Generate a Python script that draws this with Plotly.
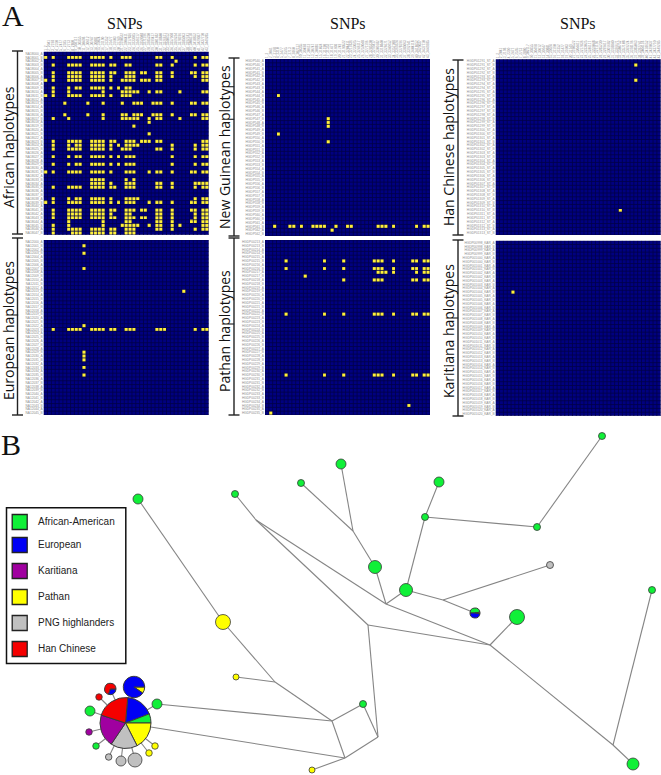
"""Haplotype matrices (A) and haplotype network (B)."""

import plotly.graph_objects as go

WIDTH = 661
HEIGHT = 775

NAVY = "#000080"
CELL_YELLOW = "#fff03a"
GRID_DARK = "#000048"
EDGE_GRAY = "#858585"
NODE_LINE = "#3a3a3a"

GREEN = "#10f038"
BLUE = "#0000f5"
PURPLE = "#a000a0"
YELLOW = "#ffff00"
GRAY = "#c0c0c0"
RED = "#f50000"

N_SNPS = 43

SNP_LABELS = [
    "1_2", "2_2041", "3_2198", "4_2310", "5_2477", "6_2595", "7_2713", "8_2860",
    "9_302117", "10_30355", "11_30498", "12_30612", "13_30747", "14_30881", "15_31024", "16_31190",
    "17_31352", "18_31477", "19_31603", "20_31749", "21_3190522", "22_3204411", "23_3217836", "24_3233025",
    "25_3246117", "26_3259048", "27_3271196", "28_3285230", "29_3299417", "30_3301682", "31_3318840", "32_3326671",
    "33_3340752", "34_3357108", "35_3369224", "36_3378196", "37_3385063", "38_3392741", "39_3404118", "40_3418652",
    "41_3429037", "42_3437710", "43_3449285",
]

# yellow cells of the African panel, row by row, as SNP column runs
AFRICAN_ROWS = [
    "", "0 2 6-9 12-15 17 20-22 29-30 33 39 41-42", "34", "2 6-9 12-15 17-18 21-22 29-30 33 39 41-42", "",
    "2 6-9 12-15 17-18 21-23 25-26 29-30 33 38-39 41-42", "2 6-9 12-15 17 21-23 29-30 33 39 41-42",
    "0 2 6-9 12-15 17 20-23 25-27 29-30 41-42", "",
    "2 6 8-9 12-15 17 19 21-22", "2 6 15 20-24 27 29-30 35 41-42", "0 2 6-9 12-15 17 20-22", "",
    "5 11 15 20 23-25 28-30 33 38-39 41-42", "", "",
    "5 11 15 20-21 23-25 28-30 33 38-39 41-42", "2 6 15 20-24 27 29-30 35 41-42", "27", "23", "",
    "27", "", "2 6-9 12-15 17-18 21-23 25-27 29-30 41-42",
    "2 6 8-9 12-15 17 19 21-24 33 39 41-42", "2 6-9 12-15 17 20-22 29-30 33 39 41-42", "",
    "2 6 8-9 12-15 17 19 21-23 33 39 41-42", "", "2 6 8-9 12-15 17 19 21-23 33 39 41-42", "",
    "0 2 6-9 12-15 17 21-23 27 29-30 33 38-39 41-42", "", "12-15 21 23", "12-15 17 21-23 29-30 33 39-42",
    "2 6-9 12-15 17-18 21-23 29-30 33 39 41-42", "", "",
    "2 6 8-9 12-15 17 21-24 39 41-42", "0 2 6-9 12-15 17 19 21-23 27 29-30 33 38-39 41-42", "",
    "2 6-9 12-15 17-18 21-23 25-26 29-30 33 38-39 41-42", "2 6-9 12-15 17 21-22 29-30 33 39 41-42",
    "2 6-9 12-15 17-18 21-23 25-26 29-30 33 39 41-42", "6 15 21-22 29-30 33 38-39 41-42",
    "2 6 15 20-24 27 29-30 33 35 41-42", "2 6-9 12-15 17-18 21-23 29-30 33 39 41-42",
    "2 7-9 12-15 17-18 21-23",
]
EUROPEAN_ROWS = {
    1: "10", 3: "10", 7: "10", 13: "36", 22: "10",
    23: "2 6-9 12-15 17-18 21-23 29-31 39 41-42",
    29: "10", 30: "10", 31: "10", 33: "10", 35: "10",
}
NEW_GUINEAN_ROWS = {
    9: "3", 15: "16", 16: "16", 17: "16", 19: "3", 21: "16",
    43: "2 6-7 9 12-15 18 21-22 29-31 33 39 41-42", 44: "17",
}
PATHAN_ROWS = {
    5: "5 15 20 28-30 33 38-39 41-42",
    7: "5 15 20 28-30 33 38-39 41-42",
    8: "29-31 33 39 41-42",
    9: "10",
    10: "20 28-30 38-39 41-42",
    19: "5 15 20 28-30 33 38-39 41-42",
    35: "5 15 20 28-30 33 38-39 41-42",
    43: "37",
    45: "1",
}
HAN_ROWS = {1: "36", 5: "36", 39: "32"}
KARITIANA_ROWS = {13: "4"}

AFRICAN_IDS = [f"NA18{i:03d}_{'AB'[i % 2]}" for i in range(48)]
EUROPEAN_IDS = [f"NA12{i:03d}_{'AB'[i % 2]}" for i in range(46)]
NEW_GUINEAN_IDS = [f"HGDP{540 + i // 2}_{'AB'[i % 2]}" for i in range(46)]
PATHAN_IDS = [f"HGDP00{213 + i // 2}_{'AB'[i % 2]}" for i in range(46)]
HAN_IDS = [f"HGDP01{291 + i // 2}_ST_{'AB'[i % 2]}" for i in range(46)]
KARITIANA_IDS = [f"HGDP00{998 + i // 2}_KAR_{'AB'[i % 2]}" for i in range(46)]

# network points: visible haplotypes, then pie centres, then junctions
NODE_X = [138, 223, 236, 235, 301, 341, 439, 425, 537, 602, 375, 406, 550, 517, 652, 633, 363, 312,
          157, 90, 99, 89, 96, 108.7, 121, 135, 149, 155,
          125.5, 134, 110.3, 475,
          256, 386, 368, 490, 613, 378, 332, 345, 275, 353, 443]
NODE_Y = [499, 622, 677, 494, 483, 464, 482, 517, 527, 436, 567, 590, 565, 617, 590, 764, 704, 770,
          704, 711, 697, 732, 746, 757, 761, 760, 753, 746,
          723, 687, 689, 613,
          520, 604, 625, 645, 745, 737, 721, 758, 682, 531, 600]
NODE_SIZE = [10, 15, 6, 7, 7, 10, 10, 7, 7, 7, 13, 13, 7, 15, 7, 12, 7, 6,
             10, 10, 6.5, 6.5, 6.5, 6.5, 10, 14, 6.5, 6.5]
NODE_COLOR = [GREEN, YELLOW, YELLOW, GREEN, GREEN, GREEN, GREEN, GREEN, GREEN, GREEN, GREEN, GREEN, GRAY,
              GREEN, GREEN, GREEN, GREEN, YELLOW,
              GREEN, GREEN, RED, PURPLE, GREEN, GRAY, GRAY, GRAY, YELLOW, YELLOW]
EDGE_START = [0, 1, 40, 2, 3, 32, 32, 4, 5, 41, 10, 33, 33, 34, 35, 35, 36, 36, 34, 37, 37, 16, 38, 39,
              28, 18, 28, 11, 7, 7, 8, 11, 42, 42,
              28, 28, 28, 28, 28, 28, 28, 28, 28, 28, 28]
EDGE_END = [1, 40, 38, 40, 32, 33, 34, 41, 41, 10, 33, 11, 35, 35, 13, 36, 15, 14, 37, 39, 16, 38, 39, 17,
            18, 38, 39, 7, 6, 8, 9, 42, 31, 12,
            19, 20, 21, 22, 23, 24, 25, 26, 27, 29, 30]

MAIN_PIE_LABELS = ["European", "African-American", "Pathan", "PNG highlanders", "Karitiana", "Han Chinese"]
MAIN_PIE_VALUES = [64, 21, 63, 61, 74, 77]
MAIN_PIE_COLORS = [BLUE, GREEN, YELLOW, GRAY, PURPLE, RED]
TOP_PIE_LABELS = ["Pathan", "European"]
TOP_PIE_VALUES = [35, 325]
TOP_PIE_COLORS = [YELLOW, BLUE]
SIDE_PIE_LABELS = ["European", "Han Chinese"]
SIDE_PIE_VALUES = [110, 250]
SIDE_PIE_COLORS = [BLUE, RED]
MIXED_PIE_LABELS = ["African-American", "Pathan", "European"]
MIXED_PIE_VALUES = [170, 20, 170]
MIXED_PIE_COLORS = [GREEN, YELLOW, BLUE]

LEGEND_LABELS = ["African-American", "European", "Karitiana", "Pathan", "PNG highlanders", "Han Chinese"]
LEGEND_COLORS = [GREEN, BLUE, PURPLE, YELLOW, GRAY, RED]
LEGEND_Y = [522, 545, 571, 597, 623, 649]


def parse_columns(text):
    columns = []
    for part in text.split():
        if "-" in part:
            first, last = part.split("-")
            columns.extend(range(int(first), int(last) + 1))
        else:
            columns.append(int(part))
    return columns


def build_matrix(rows, n_rows):
    matrix = [[0] * N_SNPS for _ in range(n_rows)]
    items = rows.items() if isinstance(rows, dict) else enumerate(rows)
    for row, text in items:
        for column in parse_columns(text):
            matrix[row][column] = 1
    return matrix


def add_panel(figure, index, rows, row_labels, box, show_snps):
    """Add one haplotype matrix on its own axes pair."""

    left, top, right, bottom = box
    suffix = str(index)
    n_rows = len(row_labels)
    figure.add_trace(
        go.Heatmap(
            z=build_matrix(rows, n_rows),
            zmin=0,
            zmax=1,
            colorscale=[[0, NAVY], [1, CELL_YELLOW]],
            showscale=False,
            hoverinfo="skip",
            xaxis=f"x{suffix}",
            yaxis=f"y{suffix}",
        )
    )
    # cell borders lie on the half-integer positions of the two axes
    grid_x = []
    grid_y = []
    for column in range(N_SNPS + 1):
        grid_x += [column - 0.5, column - 0.5, None]
        grid_y += [-0.5, n_rows - 0.5, None]
    for row in range(n_rows + 1):
        grid_x += [-0.5, N_SNPS - 0.5, None]
        grid_y += [row - 0.5, row - 0.5, None]
    figure.add_trace(
        go.Scatter(
            x=grid_x,
            y=grid_y,
            mode="lines",
            line={"color": GRID_DARK, "width": 0.8},
            hoverinfo="skip",
            showlegend=False,
            xaxis=f"x{suffix}",
            yaxis=f"y{suffix}",
        )
    )
    tick_font = {"family": "Liberation Sans", "size": 3.2, "color": "#8c8c8c"}
    figure.update_layout(
        {
            f"xaxis{suffix}": {
                "domain": [left / WIDTH, right / WIDTH],
                "anchor": f"y{suffix}",
                "side": "top",
                "range": [-0.5, N_SNPS - 0.5],
                "tickmode": "array",
                "tickvals": list(range(N_SNPS)),
                "ticktext": SNP_LABELS,
                "showticklabels": show_snps,
                "tickangle": -90,
                "tickfont": tick_font,
                "ticks": "",
                "showgrid": False,
                "zeroline": False,
                "automargin": False,
            },
            f"yaxis{suffix}": {
                "domain": [1 - bottom / HEIGHT, 1 - top / HEIGHT],
                "anchor": f"x{suffix}",
                "range": [n_rows - 0.5, -0.5],
                "tickmode": "array",
                "tickvals": list(range(n_rows)),
                "ticktext": row_labels,
                "tickfont": tick_font,
                "ticks": "",
                "showgrid": False,
                "zeroline": False,
                "automargin": False,
            },
        }
    )


def add_pie(figure, labels, values, colors, center, radius, rotation):
    x, y = center
    figure.add_trace(
        go.Pie(
            labels=labels,
            values=values,
            sort=False,
            direction="clockwise",
            rotation=rotation,
            textinfo="none",
            hoverinfo="label",
            showlegend=False,
            marker={"colors": colors, "line": {"color": NODE_LINE, "width": 1}},
            domain={
                "x": [(x - radius) / WIDTH, (x + radius) / WIDTH],
                "y": [1 - (y + radius) / HEIGHT, 1 - (y - radius) / HEIGHT],
            },
        )
    )


fig = go.Figure()

add_panel(fig, 2, AFRICAN_ROWS, AFRICAN_IDS, (43.7, 51.7, 208.7, 235), True)
add_panel(fig, 3, EUROPEAN_ROWS, EUROPEAN_IDS, (43.7, 240, 208.7, 415), False)
add_panel(fig, 4, NEW_GUINEAN_ROWS, NEW_GUINEAN_IDS, (265, 59, 430, 236), True)
add_panel(fig, 5, PATHAN_ROWS, PATHAN_IDS, (265, 240, 430, 415), False)
add_panel(fig, 6, HAN_ROWS, HAN_IDS, (495.7, 59.3, 660.7, 235), True)
add_panel(fig, 7, KARITIANA_ROWS, KARITIANA_IDS, (495.7, 240.7, 660.7, 416), False)

# network edges, then the nodes on top of them
edge_x = []
edge_y = []
for start, end in zip(EDGE_START, EDGE_END):
    edge_x += [NODE_X[start], NODE_X[end], None]
    edge_y += [NODE_Y[start], NODE_Y[end], None]
fig.add_trace(
    go.Scatter(
        x=edge_x,
        y=edge_y,
        mode="lines",
        line={"color": EDGE_GRAY, "width": 1.1},
        hoverinfo="skip",
        showlegend=False,
    )
)
fig.add_trace(
    go.Scatter(
        x=NODE_X[: len(NODE_SIZE)],
        y=NODE_Y[: len(NODE_SIZE)],
        mode="markers",
        marker={
            "size": NODE_SIZE,
            "color": NODE_COLOR,
            "opacity": 1,
            "line": {"color": NODE_LINE, "width": 0.8},
        },
        hoverinfo="skip",
        showlegend=False,
    )
)

add_pie(fig, MAIN_PIE_LABELS, MAIN_PIE_VALUES, MAIN_PIE_COLORS, (125.5, 723), 25.5, 5)
add_pie(fig, TOP_PIE_LABELS, TOP_PIE_VALUES, TOP_PIE_COLORS, (134, 687), 10.7, 90)
add_pie(fig, SIDE_PIE_LABELS, SIDE_PIE_VALUES, SIDE_PIE_COLORS, (110.3, 689), 5.7, 90)
add_pie(fig, MIXED_PIE_LABELS, MIXED_PIE_VALUES, MIXED_PIE_COLORS, (475, 613), 5, 270)

# legend box content
fig.add_trace(
    go.Scatter(
        x=[19.7] * len(LEGEND_LABELS),
        y=LEGEND_Y,
        mode="markers",
        marker={"symbol": "square", "size": 15, "color": LEGEND_COLORS, "line": {"color": "#222222", "width": 1.3}},
        hoverinfo="skip",
        showlegend=False,
    )
)
fig.add_trace(
    go.Scatter(
        x=[38] * len(LEGEND_LABELS),
        y=LEGEND_Y,
        mode="text",
        text=LEGEND_LABELS,
        textposition="middle right",
        textfont={"family": "Liberation Sans", "size": 10, "color": "#222222"},
        hoverinfo="skip",
        showlegend=False,
    )
)

fig.add_shape(
    type="rect",
    xref="x",
    yref="y",
    x0=6.5,
    y0=507.7,
    x1=125.8,
    y1=663.5,
    line={"color": "#111111", "width": 1.5},
)
# haplotype brackets: x, top, bottom
for x, top, bottom in [
    (17.5, 51, 234),
    (17.5, 238, 415),
    (234, 58, 236),
    (234, 238, 415),
    (458, 60, 235),
    (458, 240, 416),
]:
    line = {"color": "#222222", "width": 1.4}
    fig.add_shape(type="line", xref="x", yref="y", x0=x, x1=x, y0=top, y1=bottom, line=line)
    for y in (top, bottom):
        fig.add_shape(type="line", xref="x", yref="y", x0=x - 5.5, x1=x + 5.5, y0=y, y1=y, line=line)

annotations = []
for text, x, y in [("A", 13, 15), ("B", 11, 444)]:
    annotations.append(
        {"text": text, "x": x, "y": y, "xref": "x", "yref": "y", "showarrow": False,
         "font": {"family": "Liberation Serif", "size": 30, "color": "#111111"}}
    )
for x in (125, 348, 578):
    annotations.append(
        {"text": "SNPs", "x": x, "y": 23, "xref": "x", "yref": "y", "showarrow": False,
         "font": {"family": "Liberation Serif", "size": 16, "color": "#111111"}}
    )
for text, x, y in [
    ("African haplotypes", 8, 147),
    ("European haplotypes", 8, 331),
    ("New Guinean haplotypes", 224, 147),
    ("Pathan haplotypes", 224, 331),
    ("Han Chinese haplotypes", 448, 147),
    ("Karitiana haplotypes", 448, 331),
]:
    annotations.append(
        {"text": text, "x": x, "y": y, "xref": "x", "yref": "y", "showarrow": False, "textangle": -90,
         "font": {"family": "Open Sans", "size": 14, "color": "#111111"}}
    )

fig.update_layout(
    width=WIDTH,
    height=HEIGHT,
    margin={"l": 0, "r": 0, "t": 0, "b": 0},
    paper_bgcolor="white",
    plot_bgcolor="white",
    showlegend=False,
    # free-form canvas for the network, in the figure's own reading scale
    xaxis={"domain": [0, 1], "range": [0, WIDTH], "visible": False, "fixedrange": True},
    yaxis={"domain": [0, 1], "range": [HEIGHT, 0], "visible": False, "fixedrange": True},
    annotations=annotations,
)

fig.write_html("out.html", post_script="document.body.style.margin='0';", config={"displayModeBar": False})
